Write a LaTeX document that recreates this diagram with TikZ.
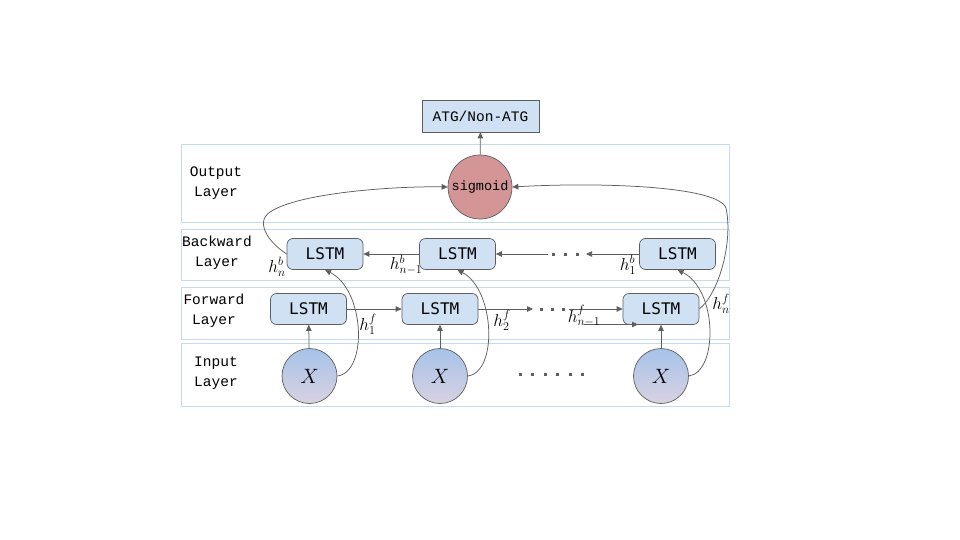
\documentclass[tikz,border=0pt]{standalone}
\usepackage{fontspec}
\usetikzlibrary{arrows.meta}
\newfontfamily\labfont{Liberation Mono}
\newfontfamily\boxfont{DejaVu Sans Mono}
\definecolor{layerc}{HTML}{C5DAEF}
\definecolor{lstmfill}{HTML}{CFE1F3}
\definecolor{edgec}{HTML}{5E5E5E}
\definecolor{sigfill}{HTML}{D39596}
\definecolor{xtop}{HTML}{A6C3E9}
\definecolor{xbot}{HTML}{D9D1E1}
\tikzset{
  layerbox/.style={draw=layerc, line width=0.9pt},
  layertext/.style={font=\labfont\fontsize{14.5}{20}\selectfont, align=center, text=black},
  lstm/.style={draw=edgec, fill=lstmfill, rounded corners=6pt, minimum width=76pt, minimum height=31pt, inner sep=0pt, font=\boxfont\fontsize{16}{18}\selectfont, line width=0.7pt},
  xnode/.style={circle, draw=edgec, top color=xtop, bottom color=xbot, minimum size=55pt, inner sep=0pt, line width=0.7pt, font=\fontsize{20}{22}\selectfont},
  conn/.style={draw=edgec, line width=0.75pt, -{Triangle[length=6pt,width=5.5pt]}},
  plain/.style={draw=edgec, line width=0.75pt},
  hlab/.style={font=\fontsize{18}{20}\selectfont, inner sep=0pt},
  dotm/.style={fill=edgec, minimum size=3pt, inner sep=0pt, draw=none, rectangle},
}
\begin{document}
\begin{tikzpicture}[x=1pt, y=-1pt]
\useasboundingbox (0,0) rectangle (960,540);
% layer boxes
\draw[layerbox] (181,144) rectangle (729,222);
\draw[layerbox] (181,229) rectangle (729,280);
\draw[layerbox] (181,287) rectangle (729,339);
\draw[layerbox] (181,343) rectangle (729,406);
\node[layertext] (lo) at (216,183) {Output\\Layer};
\node[layertext] (lb) at (217,253) {Backward\\Layer};
\node[layertext] (lf) at (214,311) {Forward\\Layer};
\node[layertext] (li) at (216,373) {Input\\Layer};
% output
\node[draw=edgec, fill=lstmfill, minimum width=117pt, minimum height=32pt, inner sep=0pt, line width=0.7pt, font=\labfont\fontsize{14.5}{16}\selectfont] (atg) at (480.5,116) {ATG/Non-ATG};
\node[circle, draw=edgec, fill=sigfill, minimum size=64pt, inner sep=0pt, line width=0.7pt, font=\labfont\fontsize{13.5}{15}\selectfont] (sig) at (480,187) {sigmoid};
\draw[conn] (sig) -- (atg);
% backward
\node[lstm] (b1) at (325,254) {LSTM};
\node[lstm] (b2) at (457.5,254) {LSTM};
\node[lstm] (b3) at (677.5,254) {LSTM};
% forward
\node[lstm] (f1) at (308.5,309) {LSTM};
\node[lstm] (f2) at (440,309) {LSTM};
\node[lstm] (f3) at (661,309) {LSTM};
% inputs
\node[xnode] (x1) at (309.5,376) {$X$};
\node[xnode] (x2) at (440,376) {$X$};
\node[xnode] (x3) at (661,376) {$X$};
\draw[conn] (x1) -- (f1);
\draw[conn] (x2) -- (f2);
\draw[conn] (x3) -- (f3);
% forward chain
\coordinate (fa) at (533,309);
\coordinate (fb) at (569,309);
\draw[conn] (f1) -- (f2);
\draw[conn] (f2.east) -- (fa);
\node[dotm] (fd1) at (541,309) {};
\node[dotm] (fd2) at (552,309) {};
\node[dotm] (fd3) at (563,309) {};
\draw[conn] (fb) -- (f3.west);
\coordinate (fc) at (584,324.5);
\coordinate (fe) at (638,324.5);
\draw[conn] (fc) -- (fe);
% backward chain
\coordinate (ba) at (586,254);
\coordinate (bb) at (548,254);
\draw[conn] (b3.west) -- (ba);
\node[dotm] (bd1) at (553,254) {};
\node[dotm] (bd2) at (565,254) {};
\node[dotm] (bd3) at (577,254) {};
\draw[conn] (bb) -- (b2.east);
\draw[conn] (b2) -- (b1);
% input dots
\foreach \i/\xx in {1/520,2/532.5,3/545,4/557,5/570,6/582}{
  \node[dotm] (id\i) at (\xx,374) {};
}
% curves from inputs to backward
\draw[conn] (x1.east) .. controls (368,372) and (365,290) .. (b1.south);
\draw[conn] (x2.east) .. controls (498,372) and (495,290) .. (b2.south);
\draw[conn] (x3.east) .. controls (718,372) and (718,290) .. (b3.south);
% forward last to sigmoid
\coordinate (k1) at (726,208);
\draw[conn] (f3.east) .. controls (720,292) and (733,240) .. (k1) .. controls (718,186) and (600,182) .. (sig.east);
% backward first to sigmoid
\coordinate (k2) at (270,212);
\draw[conn] (b1.west) .. controls (268,242) and (255,222) .. (k2) .. controls (300,192) and (400,186) .. (sig.west);
% labels
\node[hlab] (hnb) at (277,267) {$h_n^b$};
\node[hlab] (hn1b) at (406,265) {$h_{n-1}^b$};
\node[hlab] (h1b) at (628,265) {$h_1^b$};
\node[hlab] (h1f) at (368,324) {$h_1^f$};
\node[hlab] (h2f) at (502,320) {$h_2^f$};
\node[hlab] (hn1f) at (584,316) {$h_{n-1}^f$};
\node[hlab] (hnf) at (721,304) {$h_n^f$};
\end{tikzpicture}
\end{document}
